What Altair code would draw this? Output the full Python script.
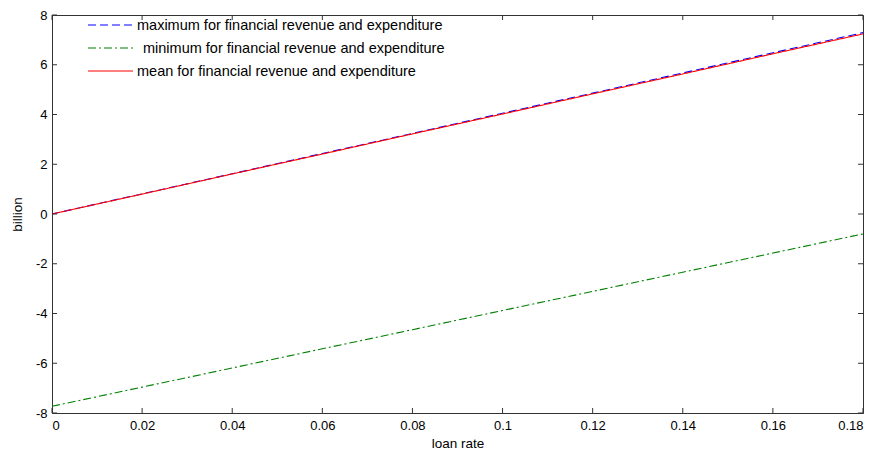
import altair as alt
import pandas as pd

loan_rate = [0, 0.02, 0.04, 0.06, 0.08, 0.10, 0.12, 0.14, 0.16, 0.18]
max_vals = [0.0, 0.81, 1.62, 2.43, 3.24, 4.05, 4.86, 5.67, 6.48, 7.29]
min_vals = [-7.73, -6.96, -6.19, -5.42, -4.65, -3.88, -3.11, -2.34, -1.57, -0.80]
mean_vals = [0.0, 0.80, 1.61, 2.41, 3.22, 4.02, 4.83, 5.63, 6.44, 7.24]

series_names = [
    "maximum for financial revenue and expenditure",
    "minimum for financial revenue and expenditure",
    "mean for financial revenue and expenditure",
]
series_colors = ["#0000ff", "#008000", "#ff0000"]
series_dash = [[8, 4], [8, 3, 2, 3], [1, 0]]

x_ticks = [0, 0.02, 0.04, 0.06, 0.08, 0.1, 0.12, 0.14, 0.16, 0.18]
y_ticks = [-8, -6, -4, -2, 0, 2, 4, 6, 8]

rows = []
for name, vals in zip(series_names, [max_vals, min_vals, mean_vals]):
    for xv, yv in zip(loan_rate, vals):
        rows.append({"loan rate": xv, "billion": yv, "series": name})
df = pd.DataFrame(rows)

W, H = 811, 398
FONT = "Liberation Sans"

xscale = alt.Scale(domain=[0, 0.18], nice=False, zero=False)
yscale = alt.Scale(domain=[-8, 8], nice=False, zero=False)
cscale = alt.Scale(domain=series_names, range=series_colors)
dscale = alt.Scale(domain=series_names, range=series_dash)

lines = alt.Chart(df).mark_line(strokeWidth=1.1).encode(
    x=alt.X("loan rate:Q", scale=xscale,
            axis=alt.Axis(values=x_ticks, labelExpr="toString(datum.value)", title="loan rate",
                          ticks=False, labelPadding=6, titlePadding=4, grid=False)),
    y=alt.Y("billion:Q", scale=yscale,
            axis=alt.Axis(values=y_ticks, labelExpr="toString(datum.value)", title="billion",
                          ticks=False, labelPadding=5, titlePadding=11, grid=False)),
    color=alt.Color("series:N", scale=cscale, legend=None),
    strokeDash=alt.StrokeDash("series:N", scale=dscale, legend=None),
)

# manual legend (MATLAB style, no frame)
legend_text_x = [85, 91, 85]
legend_layers = []
for i, name in enumerate(series_names):
    ldf = pd.DataFrame({"series": [name]})
    ly = 10 + 23 * i
    legend_layers.append(
        alt.Chart(ldf).mark_rule(strokeWidth=1.1).encode(
            x=alt.value(36), x2=alt.value(81), y=alt.value(ly),
            color=alt.Color("series:N", scale=cscale, legend=None),
            strokeDash=alt.StrokeDash("series:N", scale=dscale, legend=None),
        )
    )
    legend_layers.append(
        alt.Chart(ldf).mark_text(align="left", baseline="middle", font=FONT,
                                 fontSize=14.5, color="#000000").encode(
            x=alt.value(legend_text_x[i]), y=alt.value(ly + 1), text="series:N",
        )
    )

xt = pd.DataFrame({"v": x_ticks})
yt = pd.DataFrame({"v": y_ticks})
tick_color = "#333333"

bottom_ticks = alt.Chart(xt).mark_rule(color=tick_color).encode(
    x=alt.X("v:Q", scale=xscale), y=alt.value(H), y2=alt.value(H - 5))
top_ticks = alt.Chart(xt).mark_rule(color=tick_color).encode(
    x=alt.X("v:Q", scale=xscale), y=alt.value(0), y2=alt.value(5))
left_ticks = alt.Chart(yt).mark_rule(color=tick_color).encode(
    y=alt.Y("v:Q", scale=yscale), x=alt.value(0), x2=alt.value(5))
right_ticks = alt.Chart(yt).mark_rule(color=tick_color).encode(
    y=alt.Y("v:Q", scale=yscale), x=alt.value(W), x2=alt.value(W - 5))

chart = alt.layer(lines, bottom_ticks, top_ticks, left_ticks, right_ticks,
                  *legend_layers).properties(
    width=W, height=H,
    autosize=alt.AutoSizeParams(type="none"),
    padding={"left": 44, "top": 7, "right": 9, "bottom": 42},
).configure_view(
    stroke=tick_color, strokeWidth=1
).configure_axis(
    labelFont=FONT, titleFont=FONT, labelFontSize=13, titleFontSize=13.5,
    titleFontWeight="normal", labelColor="#000000", titleColor="#000000",
    domainColor=tick_color,
)

chart.save("out.html", embed_options={"renderer": "svg", "actions": False})
